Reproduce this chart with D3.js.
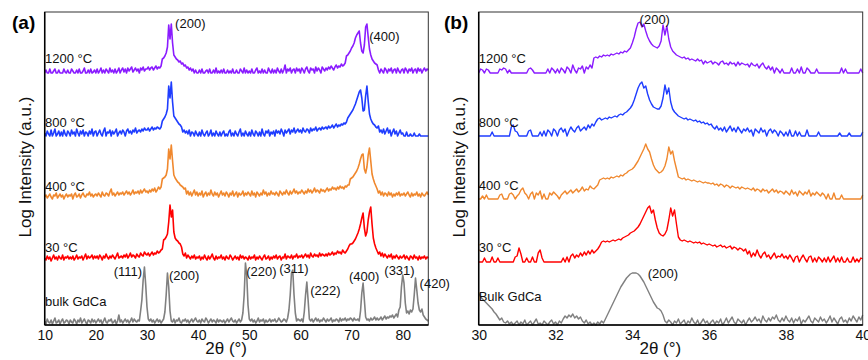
<!DOCTYPE html>
<html><head><meta charset="utf-8">
<script src="https://cdn.jsdelivr.net/npm/d3@7"></script>
<style>body{margin:0;background:#fff} text{font-family:"Liberation Sans",Arial,sans-serif}</style>
</head><body><svg id="c" width="868" height="360"></svg>
<script>
// ---------- data ----------
const seriesNames = ["bulk GdCa", "30 °C", "400 °C", "800 °C", "1200 °C"];
const seriesColors = ["#808080", "#ff0000", "#f0882e", "#1f3dff", "#8a1cff"];

// panel (a): 2θ scan 10–85°, step 0.25°, log intensity above each trace's floor
const wideStart = 10, wideStep = 0.25;
const wideBulk = [
 4,1,6,3,2,5,1,4,7,2,3,5,1,4,6,2,3,5,4,1,
 5,3,2,6,4,1,5,3,7,2,4,6,3,1,5,4,2,6,3,5,
 2,4,6,3,5,1,4,7,3,2,5,4,6,2,3,5,1,4,10,3,
 5,2,4,6,3,5,2,4,7,3,6,4,3,5,4,14,25,45,58,40,
 18,6,4,6,3,5,2,4,6,3,5,2,4,6,13,30,52,38,14,4,
 3,6,2,5,4,7,3,2,5,4,6,3,5,2,4,6,3,5,7,4,
 3,5,2,6,4,3,7,5,2,4,6,3,5,4,2,6,3,5,4,3,
 5,2,4,6,3,5,7,4,3,5,2,4,6,3,5,12,30,62,50,20,
 6,4,6,3,5,2,4,7,3,5,4,6,2,5,3,4,6,3,5,4,
 6,3,4,7,5,3,4,6,5,3,7,15,30,52,55,30,12,4,6,5,
 4,6,3,13,30,43,25,6,4,6,3,5,7,4,6,3,5,4,7,5,
 3,6,4,5,7,3,5,4,6,5,3,7,4,6,5,7,4,6,5,7,
 6,4,7,5,5,6,4,14,32,42,25,8,5,6,4,7,5,6,8,5,
 7,5,6,8,5,7,9,6,8,7,9,8,10,7,9,11,8,15,18,38,
 50,42,22,12,14,11,15,13,16,30,47,35,22,15,13,16,10,8,6,5,4];
const wide30 = [
 4,2,6,3,5,1,4,7,3,5,2,6,4,3,7,2,5,4,6,3,
 5,3,6,2,4,7,3,5,4,6,2,5,8,3,6,4,5,7,3,6,
 4,6,3,7,5,2,6,4,8,5,3,6,4,7,5,3,6,9,4,5,
 6,4,7,5,8,4,6,9,5,7,6,4,8,6,5,9,7,6,10,8,
 7,9,6,8,10,7,9,8,11,9,10,12,13,22,23,25,28,40,57,45,
 52,30,24,22,21,19,18,15,8,6,9,4,7,5,3,6,4,7,3,5,
 4,6,2,5,3,7,4,2,6,3,5,8,4,2,6,3,5,4,7,3,
 5,2,6,4,3,7,5,2,4,6,3,5,2,7,4,6,3,5,4,2,
 6,3,5,4,7,2,5,3,6,4,2,5,7,3,4,6,2,5,3,6,
 4,7,3,5,6,2,5,4,8,3,6,5,4,7,3,6,5,8,4,6,
 5,7,4,6,8,5,7,4,9,6,5,8,6,7,5,9,6,8,7,6,
 8,6,9,7,8,10,7,9,8,11,9,10,8,12,10,9,11,13,16,18,
 18,19,21,23,26,29,33,38,44,49,34,26,30,42,50,55,38,24,18,14,
 11,8,10,6,9,5,8,6,4,7,5,8,3,6,4,7,5,3,6,4,
 5,7,3,6,4,2,6,5,3,7,4,5,2,6,3,5,4,6,3,5,4];
const wide400 = [
 2,4,1,3,5,2,0,4,3,6,1,3,5,2,4,0,3,5,2,4,
 3,5,0,4,6,2,3,5,1,4,6,3,2,5,4,7,3,5,2,4,
 5,3,6,4,2,7,4,3,6,5,3,7,10,4,6,3,5,7,4,6,
 5,7,4,6,8,5,7,4,6,9,5,7,6,8,5,9,6,8,10,7,
 8,6,9,7,10,8,11,7,9,12,10,12,20,21,22,24,30,50,40,54,
 38,24,21,19,17,16,14,13,12,10,11,5,8,4,7,3,6,9,4,7,
 3,6,4,8,2,5,7,3,6,4,9,5,3,7,4,6,2,5,8,4,
 6,3,7,5,2,6,4,8,3,5,7,2,6,4,5,8,3,6,4,7,
 5,3,8,4,6,2,7,5,3,6,4,9,5,7,3,6,4,8,5,6,
 4,7,5,3,8,6,4,7,5,9,6,4,8,5,7,10,6,8,5,7,
 6,9,7,5,8,6,10,7,9,6,8,11,7,9,8,6,10,8,9,7,
 9,11,8,10,9,12,10,11,9,12,10,13,11,12,10,13,12,14,14,20,
 21,22,24,26,28,31,35,40,44,45,30,26,32,44,51,38,25,20,16,13,
 10,6,8,4,7,3,6,5,3,7,4,6,2,5,3,6,4,7,3,5,
 4,6,3,5,7,4,2,6,3,5,4,7,3,5,2,6,4,3,5,7,4];
const wide800 = [
 3,0,5,2,0,6,0,3,7,0,2,5,0,4,0,6,2,0,5,3,
 0,6,2,4,0,7,3,0,5,2,6,0,4,3,0,5,2,7,0,4,
 5,0,3,6,2,0,5,8,0,4,3,6,0,5,2,4,7,0,3,5,
 2,6,4,0,5,7,3,5,2,6,4,8,3,5,6,4,7,5,8,6,
 6,8,5,7,9,6,8,7,9,8,7,9,15,17,19,22,27,50,38,54,
 34,20,18,16,14,12,11,9,4,6,3,5,2,6,0,4,3,0,5,2,
 0,4,0,6,2,0,3,5,0,2,6,0,3,0,5,2,0,4,0,3,
 5,0,2,0,4,6,0,3,0,5,2,0,4,7,0,3,0,5,2,0,
 4,0,6,2,0,5,3,0,4,0,7,2,0,5,3,6,0,4,2,5,
 0,6,3,5,2,7,4,0,6,3,5,7,2,6,4,8,3,5,7,4,
 6,3,8,5,4,7,6,3,8,5,7,6,9,5,7,8,6,9,7,8,
 9,7,10,8,9,11,8,10,12,9,11,10,12,11,13,12,14,18,20,22,
 24,26,29,32,36,40,44,46,38,25,26,40,50,35,22,17,14,12,11,9,
 8,10,4,6,3,7,2,5,8,3,6,0,4,7,2,5,0,3,6,2,
 3,0,0,4,0,0,2,0,0,3,0,0,0,2,0,0,0,0,0,0,0];
const wide1200 = [
 0,3,0,0,4,0,0,2,4,0,0,3,0,0,0,4,1,0,3,0,
 0,4,2,0,0,3,0,4,0,0,2,5,0,0,3,0,4,0,1,3,
 0,4,0,2,5,0,3,0,4,2,0,5,1,3,0,4,0,2,5,0,
 3,5,1,4,0,5,2,4,6,1,3,5,2,4,0,5,3,6,2,4,
 4,6,3,5,6,3,5,7,4,6,5,7,14,15,17,20,26,48,34,49,
 30,18,16,14,13,11,12,9,10,7,8,5,6,3,5,2,4,0,3,0,
 0,3,0,4,0,0,2,3,0,4,0,0,3,0,5,0,2,0,3,0,
 4,0,0,3,0,2,0,4,0,0,3,0,0,4,2,0,5,0,3,0,
 2,0,4,0,0,3,5,0,2,0,4,0,3,0,0,5,2,0,4,0,
 3,0,5,2,0,4,0,3,8,0,4,2,5,0,3,4,0,5,2,4,
 0,5,3,0,4,6,2,0,5,3,4,0,6,2,5,3,0,6,4,2,
 5,3,6,4,7,5,3,6,8,5,7,6,9,7,8,10,17,18,20,22,
 25,27,30,35,38,40,42,30,22,20,28,46,49,36,24,18,14,12,10,9,
 8,3,0,4,2,0,5,3,0,4,2,5,0,3,4,0,5,2,0,3,
 4,0,5,3,0,4,2,5,0,3,4,0,5,2,4,0,3,5,2,4,3];

// panel (b): 2θ scan 30–40°, step 0.05°
const zoomStart = 30, zoomStep = 0.05;
const zoomBulk = [
 32,28,26,24,22,20,18,16,13,11,8,5,7,3,2,4,1,3,0,2,
 4,0,3,1,5,0,2,4,0,3,6,1,2,0,4,2,0,3,5,1,
 3,0,4,2,6,9,7,10,8,11,7,9,6,8,4,2,5,1,3,0,
 2,0,3,1,4,2,6,10,14,18,22,26,30,34,38,41,44,47,49,51,
 52,52,52,51,49,46,43,39,35,31,27,23,20,17,16,14,10,4,2,5,
 3,0,4,2,6,1,3,5,0,4,2,7,3,1,5,0,3,6,2,4,
 0,3,5,1,4,2,6,0,3,7,2,5,8,3,1,6,4,2,5,0,
 4,7,3,5,8,4,6,2,9,5,3,7,4,8,6,10,5,3,7,4,
 9,5,3,7,2,6,4,8,1,5,3,6,9,4,2,7,5,3,8,4,
 6,2,5,9,3,7,4,1,6,8,3,5,2,7,4,9,6,3,8,5,10];
const zoom30 = [
 0,0,0,4,0,0,0,5,0,0,4,0,0,0,0,0,0,0,0,5,
 6,14,8,0,0,4,0,0,5,0,0,9,12,4,0,0,0,0,0,0,
 0,0,0,0,4,0,5,0,6,8,4,7,5,9,6,10,7,11,8,12,
 9,11,13,16,20,21,20,21,20,21,22,21,22,23,22,24,25,26,27,29,
 30,31,33,35,38,42,46,50,54,56,49,52,42,34,29,27,26,28,32,42,
 54,46,52,38,25,22,21,22,21,20,21,20,19,20,19,20,18,19,18,17,
 18,17,16,17,15,16,17,15,16,14,15,16,13,15,14,12,14,13,11,13,
 8,11,5,9,6,12,7,4,8,10,5,7,3,6,9,4,6,5,8,4,
 6,3,7,4,0,5,6,0,4,7,3,0,5,6,0,4,0,5,3,0,
 4,0,5,0,3,6,0,4,0,5,0,0,4,0,0,5,0,3,0,4,3];
const zoom400 = [
 0,0,3,0,4,0,0,0,0,0,0,4,5,0,0,0,5,6,4,0,
 3,5,9,11,6,4,0,5,7,0,6,4,8,0,5,0,0,6,4,7,
 5,3,0,4,6,8,5,7,9,6,8,10,7,9,12,8,10,9,13,11,
 10,12,14,19,20,21,20,21,20,22,21,22,23,22,24,23,25,26,28,29,
 30,32,35,38,42,46,50,55,50,47,40,34,30,28,26,27,29,33,40,52,
 45,48,38,30,22,21,20,21,19,20,19,18,19,18,17,18,17,16,17,16,
 16,15,16,14,15,13,15,14,12,14,13,11,13,12,11,12,10,12,11,10,
 11,10,9,11,8,10,9,7,10,8,9,6,8,10,7,9,6,8,7,5,
 8,6,4,9,5,7,3,8,6,4,7,5,9,3,6,4,7,5,3,6,
 4,0,5,0,0,6,0,0,0,4,0,0,0,0,0,0,0,0,0,0,4];
const zoom800 = [
 0,0,0,0,0,0,0,4,0,0,0,0,0,0,0,0,0,9,11,5,
 4,0,0,0,0,0,5,6,0,0,0,0,4,0,5,0,6,4,0,7,
 5,0,6,8,4,7,0,5,9,6,4,8,10,5,7,9,6,11,8,12,
 10,14,17,18,16,17,18,17,19,18,19,20,19,21,22,21,23,24,26,28,
 31,36,42,48,52,54,48,50,42,36,32,29,28,27,27,30,38,51,42,48,
 34,27,24,22,20,19,18,17,18,16,17,16,15,16,14,15,13,14,12,13,
 11,12,9,7,10,6,8,5,9,4,7,10,5,8,4,9,6,3,7,5,
 8,4,6,0,7,5,3,8,4,6,0,5,7,3,6,4,0,5,3,0,
 4,0,6,0,0,5,0,4,0,0,0,6,0,0,0,0,0,4,0,0,
 0,0,0,0,0,0,0,0,3,0,0,0,0,3,0,0,0,0,0,0,4];
const zoom1200 = [
 0,4,3,0,4,3,0,0,0,0,0,4,3,5,4,0,3,0,0,0,
 0,0,0,0,0,0,4,5,3,0,0,0,0,0,0,0,4,0,5,3,
 0,4,0,5,3,0,6,4,0,8,3,0,5,4,7,0,6,4,8,5,
 15,16,15,17,16,18,17,18,17,19,18,19,20,19,21,20,22,21,23,25,
 30,36,44,50,51,46,49,42,36,32,29,27,26,25,27,32,48,38,47,34,
 26,22,20,18,17,16,15,16,14,15,13,14,13,12,14,12,13,9,12,10,
 11,12,9,11,10,8,11,12,9,10,8,11,9,10,7,11,8,10,9,8,
 9,6,10,8,7,9,5,8,10,6,4,7,3,6,0,5,3,0,4,0,
 0,0,0,5,0,0,4,0,6,0,0,5,3,0,0,0,4,0,0,0,
 0,0,0,0,0,0,0,0,0,5,0,4,0,0,0,0,0,0,0,4,0];

const wideTicks = [10, 20, 30, 40, 50, 60, 70, 80];
const zoomTicks = [30, 32, 34, 36, 38, 40];

// peak annotations: [text, 2θ, level in intensity units of the stacked plot, anchor]
const wideNotes = [["(200)", 35.5, 297, "start"], ["(400)", 73.45, 284, "start"],
  ["(111)", 29.04, 49, "end"], ["(200)", 34.3, 45, "start"], ["(220)", 49.4, 49, "start"],
  ["(311)", 55.84, 52, "start"], ["(222)", 61.9, 30, "start"], ["(400)", 69.5, 44, "start"],
  ["(331)", 76.4, 50, "start"], ["(420)", 83.3, 37, "start"]];
const zoomNotes = [["(200)", 34.19, 301, "start"], ["(200)", 34.4, 47, "start"]];
const wideSeriesLabels = ["bulk GdCa", "30 °C", "400 °C", "800 °C", "1200 °C"];
const zoomSeriesLabels = ["Bulk GdCa", "30 °C", "400 °C", "800 °C", "1200 °C"];

// ---------- drawing ----------
const svg = d3.select("#c");
const band = 63;         // vertical offset between stacked traces (intensity units)
const yTop = 313;

function panel(opts) {
  const {left, right, top, bottom, domain, start, step, series, ticks, notes, labels, labelPos, tag, tagX, sw} = opts;
  const x = d3.scaleLinear().domain(domain).range([left, right]);
  const y = d3.scaleLinear().domain([0, yTop]).range([bottom, top]);
  const g = svg.append("g");

  series.forEach((vals, si) => {
    const line = d3.line()
      .x((d, i) => x(start + i * step))
      .y(d => y(d + si * band));
    g.append("path").datum(vals).attr("d", line)
      .attr("fill", "none").attr("stroke", seriesColors[si])
      .attr("stroke-width", sw).attr("stroke-linejoin", "round");
  });

  // frame
  g.append("rect").attr("x", left).attr("y", top).attr("width", right - left).attr("height", bottom - top)
    .attr("fill", "none").attr("stroke", "#333").attr("stroke-width", 1);
  g.append("line").attr("x1", left).attr("x2", left).attr("y1", top).attr("y2", bottom)
    .attr("stroke", "#000").attr("stroke-width", 1.5);
  g.append("line").attr("x1", left).attr("x2", right).attr("y1", bottom).attr("y2", bottom)
    .attr("stroke", "#000").attr("stroke-width", 1.5);

  const ax = g.append("g").attr("transform", `translate(0,${bottom})`)
    .call(d3.axisBottom(x).tickValues(ticks).tickSize(0).tickPadding(5).tickFormat(d3.format("d")));
  ax.select(".domain").remove();
  ax.selectAll("text").attr("font-size", 14).attr("fill", "#111")
    .style("font-family", '"Liberation Sans", Arial, sans-serif');

  labels.forEach((t, si) => {
    g.append("text").attr("x", x(labelPos[0])).attr("y", y(labelPos[1][si]))
      .attr("font-size", 13).attr("fill", "#111").text(t);
  });
  notes.forEach(n => {
    g.append("text").attr("x", x(n[1])).attr("y", y(n[2])).attr("text-anchor", n[3])
      .attr("font-size", 13).attr("fill", "#111").text(n[0]);
  });

  g.append("text").attr("x", left + (right - left) * 0.473).attr("y", 354)
    .attr("text-anchor", "middle").attr("font-size", 17).attr("fill", "#111").text("2θ (°)");
  g.append("text").attr("transform", `translate(${left - 14},167) rotate(-90)`)
    .attr("text-anchor", "middle").attr("font-size", 17).attr("fill", "#111").text("Log Intensity (a.u.)");
  g.append("text").attr("x", tagX).attr("y", 29).attr("font-size", 19).attr("font-weight", "bold")
    .attr("fill", "#000").text(tag);
}

panel({left: 44.7, right: 428.3, top: 12, bottom: 325, domain: [10, 85],
  start: wideStart, step: wideStep,
  series: [wideBulk, wide30, wide400, wide800, wide1200],
  ticks: wideTicks, notes: wideNotes, labels: wideSeriesLabels,
  labelPos: [10.06, [19, 73, 134, 198, 262]], tag: "(a)", tagX: 12, sw: 1.6});

panel({left: 478.7, right: 862.7, top: 12, bottom: 325, domain: [30, 40],
  start: zoomStart, step: zoomStep,
  series: [zoomBulk, zoom30, zoom400, zoom800, zoom1200],
  ticks: zoomTicks, notes: zoomNotes, labels: zoomSeriesLabels,
  labelPos: [30.0, [24, 73, 135, 198, 262]], tag: "(b)", tagX: 444, sw: 1.4});
</script></body></html>
